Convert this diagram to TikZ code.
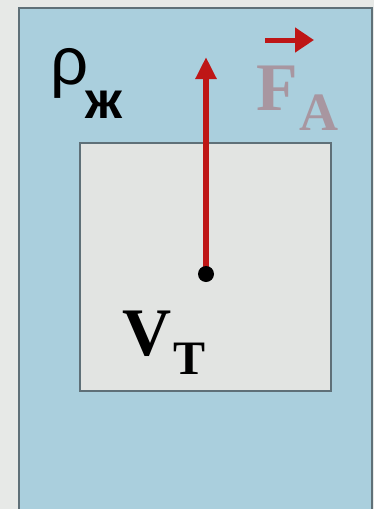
\documentclass[tikz,border=0pt]{standalone}
\usepackage{fontspec}
\setmainfont{Liberation Serif}
\newfontfamily\labelsans{Liberation Sans}
\usepackage{tikz}
\usetikzlibrary{arrows.meta,positioning}

\definecolor{liquid}{RGB}{170,207,221}
\definecolor{bodygray}{RGB}{226,228,226}
\definecolor{paper}{RGB}{231,233,231}
\definecolor{rim}{RGB}{95,112,120}
\definecolor{forcered}{RGB}{190,22,22}
\definecolor{fadedF}{RGB}{168,150,160}

\begin{document}
\begin{tikzpicture}[
    x=1pt, y=-1pt,
    >={Triangle[length=22pt,width=20pt]},
    liquid box/.style={fill=liquid, draw=rim, line width=2.5pt},
    body box/.style={fill=bodygray, draw=rim, line width=2.5pt},
    force/.style={->, draw=forcered, line width=6pt},
    sans label/.style={font=\labelsans\fontsize{67}{69}\selectfont, inner sep=0pt},
    serif label/.style={font=\bfseries\fontsize{68}{70}\selectfont, inner sep=0pt}
]
    \useasboundingbox[fill=paper] (0,0) rectangle (374,509);

    \path[liquid box] (19,8) rectangle (372,516);
    \path[body box] (80,143) rectangle (331,391);

    \coordinate (centre) at (206,274);
    \coordinate (tip) at (206,57);
    \draw[force] (centre) -- (tip);
    \fill[black] (centre) circle (8);

    \node[sans label, anchor=base west] (rho) at (50,84) {ρ};
    \node[font=\labelsans\bfseries\fontsize{52}{54}\selectfont, inner sep=0pt,
          anchor=base west] (zh) at (85,118) {ж};

    \node[serif label, text=fadedF, anchor=base west] (F) at (256,110) {F};
    \node[font=\bfseries\fontsize{54}{56}\selectfont, text=fadedF, inner sep=0pt,
          anchor=base west] (A) at (299,130) {A};
    \coordinate (Fl) at (265,40);
    \coordinate (Fr) at (314,40);
    \draw[->, forcered, line width=5pt, >={Triangle[length=19pt,width=24pt]}] (Fl) -- (Fr);

    \node[serif label, anchor=base west] (V) at (122,355) {V};
    \node[font=\bfseries\fontsize{48}{50}\selectfont, inner sep=0pt,
          anchor=base west] (T) at (173,374) {Т};
\end{tikzpicture}
\end{document}
